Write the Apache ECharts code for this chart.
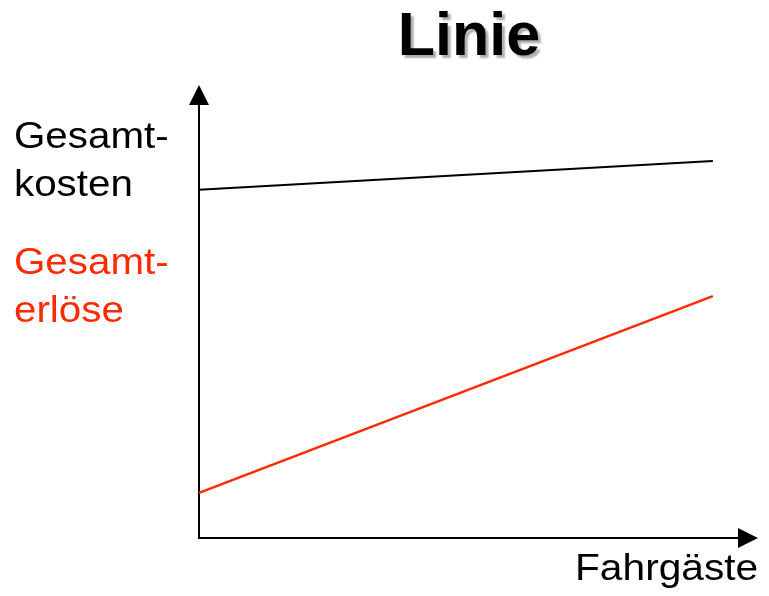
<!DOCTYPE html>
<html>
<head>
<meta charset="utf-8">
<script src="https://cdn.jsdelivr.net/npm/echarts@6/dist/echarts.min.js"></script>
<style>html,body{margin:0;padding:0;background:#fff;}#c{width:769px;height:596px;}</style>
</head>
<body>
<div id="c"></div>
<script>
// Data (arbitrary units)
const xValues = [0, 93.6];
const gesamtkosten = [78.6, 85.1];
const gesamterloese = [10.2, 54.6];
const titleText = 'Linie';
const yLabelKosten = ['Gesamt-', 'kosten'];
const yLabelErloese = ['Gesamt-', 'erlöse'];
const xLabel = 'Fahrgäste';

const RED = '#FF2A00';
const FONT = '"Liberation Sans", Arial, sans-serif';

const chart = echarts.init(document.getElementById('c'), null, {renderer: 'canvas'});

function txt(text, x, y, color, size, opts) {
  return Object.assign({
    type: 'text', x: x, y: y,
    style: {text: text, fill: color, font: size + 'px ' + FONT, textAlign: 'left', textVerticalAlign: 'middle'}
  }, opts || {});
}

const SX = 1.09;
chart.setOption({
  animation: false,
  backgroundColor: '#fff',
  grid: {left: 199, right: 21, top: 95, bottom: 58, containLabel: false},
  xAxis: {
    type: 'value', min: 0, max: 100,
    axisLine: {show: true, onZero: false, symbol: ['none', 'triangle'], symbolSize: [20, 20], lineStyle: {color: '#000', width: 2}},
    axisTick: {show: false}, axisLabel: {show: false}, splitLine: {show: false}
  },
  yAxis: {
    type: 'value', min: 0, max: 100,
    axisLine: {show: true, onZero: false, symbol: ['none', 'triangle'], symbolSize: [20, 20], lineStyle: {color: '#000', width: 2}},
    axisTick: {show: false}, axisLabel: {show: false}, splitLine: {show: false}
  },
  series: [
    {
      name: 'Gesamtkosten', type: 'line', showSymbol: false, silent: true,
      data: xValues.map((x, i) => [x, gesamtkosten[i]]),
      lineStyle: {color: '#000', width: 2}
    },
    {
      name: 'Gesamterlöse', type: 'line', showSymbol: false, silent: true,
      data: xValues.map((x, i) => [x, gesamterloese[i]]),
      lineStyle: {color: RED, width: 2.5}
    }
  ],
  graphic: [
    {
      type: 'text', x: 469, y: 38,
      style: {text: titleText, fill: '#000', font: 'bold 61px ' + FONT, textAlign: 'center', textVerticalAlign: 'middle',
        shadowColor: 'rgba(120,120,120,0.6)', shadowOffsetX: 3, shadowOffsetY: 3, shadowBlur: 2,
        textShadowColor: 'rgba(120,120,120,0.6)', textShadowOffsetX: 3, textShadowOffsetY: 3, textShadowBlur: 2}
    },
    txt(yLabelKosten[0], 14, 138, '#000', 37, {scaleX: SX}),
    txt(yLabelKosten[1], 14, 186, '#000', 37, {scaleX: SX}),
    txt(yLabelErloese[0], 14, 264, RED, 37, {scaleX: SX}),
    txt(yLabelErloese[1], 14, 312, RED, 37, {scaleX: SX}),
    txt(xLabel, 575, 570, '#000', 37, {scaleX: 1.1})
  ]
});
</script>
</body>
</html>
